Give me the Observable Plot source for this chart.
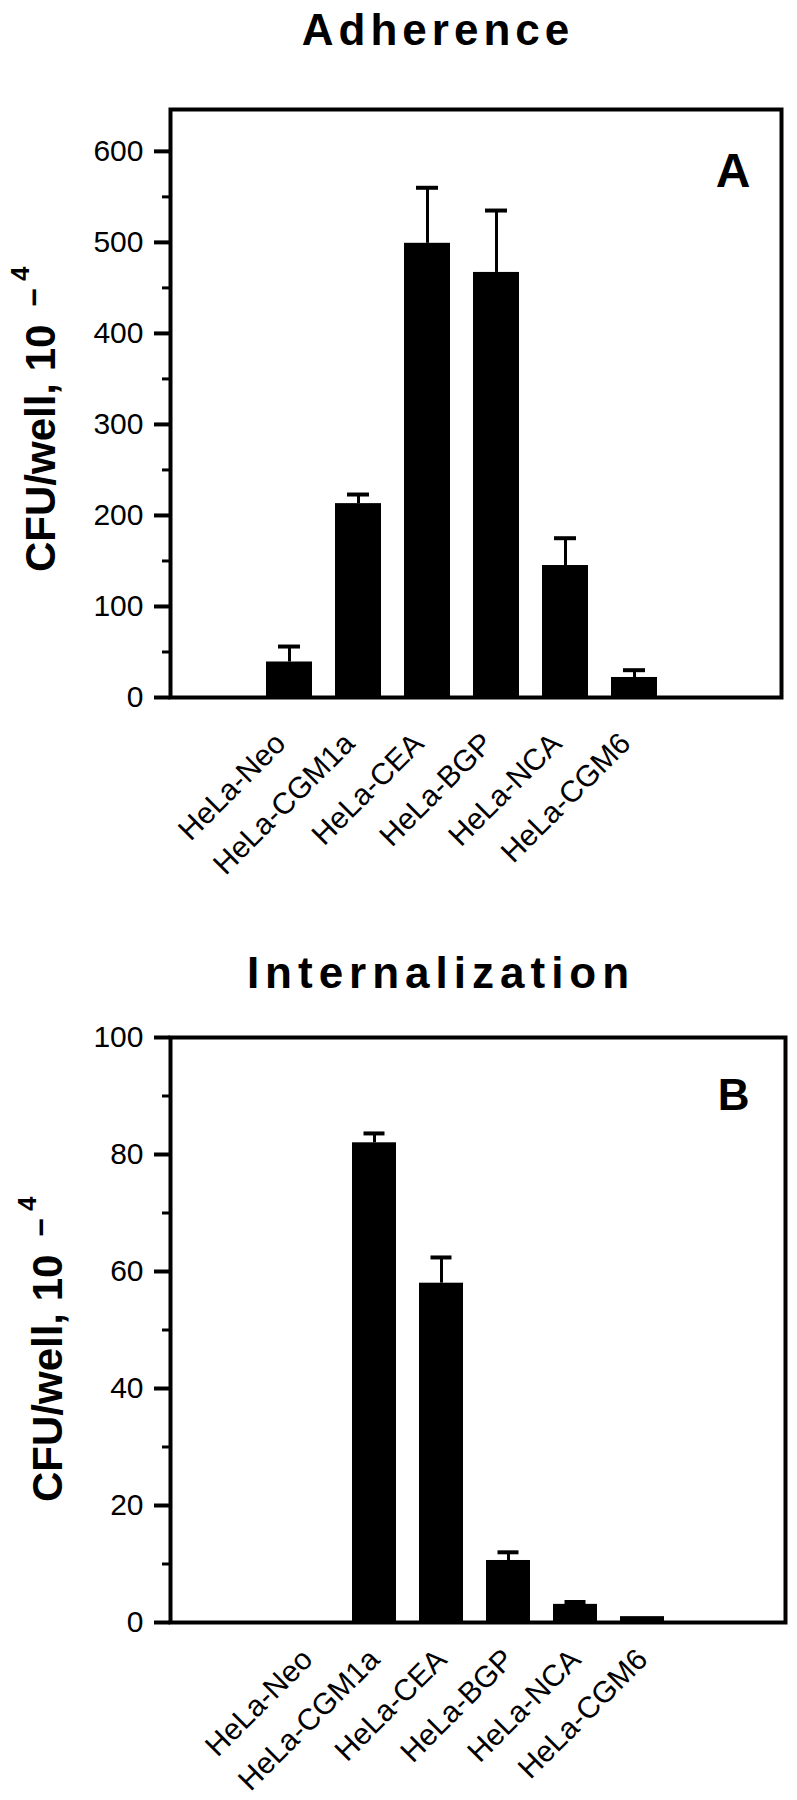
<!DOCTYPE html>
<html>
<head>
<meta charset="utf-8">
<script src="https://cdn.jsdelivr.net/npm/d3@7"></script>
<script src="https://cdn.jsdelivr.net/npm/@observablehq/plot@0.6"></script>
<style>
  html, body { margin: 0; padding: 0; background: white; overflow: hidden; }
  #page { position: relative; width: 797px; height: 1800px; background: white; overflow: hidden; }
  .panel { position: absolute; left: 0; }
  .title {
    position: absolute; z-index: 2; transform: translateX(-50%);
    font-family: "Liberation Sans", Arial, Helvetica, sans-serif;
    font-weight: bold; font-size: 44px; line-height: 44px; letter-spacing: 5px;
    white-space: nowrap; color: black;
  }
  #page svg g[aria-label="y-axis tick label"] { font-size: 30px; }
  #page svg g[aria-label="x-axis tick label"] { font-size: 30px; }
</style>
</head>
<body>
<div id="page">
  <div id="panelA" class="panel" style="top:0px"></div>
  <div id="panelB" class="panel" style="top:900px"></div>
  <div class="title" style="left:438px; top:8px">Adherence</div>
  <div class="title" style="left:441px; top:951px; letter-spacing:6px">Internalization</div>
</div>
<script>
// ---- data ----
const categories = ["HeLa-Neo", "HeLa-CGM1a", "HeLa-CEA", "HeLa-BGP", "HeLa-NCA", "HeLa-CGM6"];

// Panel A: Adherence (CFU/well, 10^-4)
const adherenceMean  = [39, 213, 499, 467, 145, 22];
const adherenceUpper = [56, 223, 560, 535, 175, 30];
const adherenceMajorTicks = [0, 100, 200, 300, 400, 500, 600];
const adherenceMinorTicks = [50, 150, 250, 350, 450, 550];

// Panel B: Internalization (CFU/well, 10^-4)
const internalMean  = [0, 82, 58, 10.6, 3.1, 1.0];
const internalUpper = [null, 83.6, 62.4, 12.0, 3.5, null];
const internalMajorTicks = [0, 20, 40, 60, 80, 100];
const internalMinorTicks = [10, 30, 50, 70, 90];

const FONT = '"Liberation Sans", Arial, Helvetica, sans-serif';

function makePanel(cfg) {
  const data = categories.map((c, i) => ({cat: c, value: cfg.values[i], hi: cfg.upper[i]}));
  const hasErr = d => d.hi != null;
  const svg = Plot.plot({
    width: 797,
    height: 900,
    marginLeft: 170,
    marginRight: cfg.marginRight,
    marginTop: cfg.marginTop,
    marginBottom: cfg.marginBottom,
    style: {fontFamily: FONT, fontSize: "30px", color: "black", background: "white", overflow: "visible"},
    x: {domain: categories, range: cfg.xRange, paddingInner: 0.34, paddingOuter: 0.17},
    y: {domain: [0, cfg.yMax]},
    marks: [
      Plot.barY(data, {x: "cat", y: "value", fill: "black"}),
      Plot.ruleX(data, {filter: hasErr, x: "cat", y1: "value", y2: "hi", stroke: "black", strokeWidth: 3}),
      Plot.tickY(data, {filter: hasErr, x: "cat", y: "hi", stroke: "black", strokeWidth: 4,
                        insetLeft: cfg.capInset, insetRight: cfg.capInset}),
      Plot.frame({stroke: "black", strokeWidth: 4}),
      Plot.axisY(cfg.major, {tickSize: 16, tickPadding: 11, fontSize: 30, strokeWidth: 4, label: null}),
      Plot.axisY(cfg.minor, {tickSize: 8, tickFormat: () => "", strokeWidth: 3, label: null}),
      Plot.axisX({tickSize: 0, tickRotate: -45, tickPadding: cfg.xPad, dx: cfg.xDx, fontSize: 30, label: null}),
      Plot.text([cfg.letter], {text: d => d, frameAnchor: "top-right", dx: cfg.letterDx, dy: cfg.letterDy,
                               fontSize: cfg.letterSize, fontWeight: "bold"})
    ]
  });
  // y-axis title with raised exponent
  const t = d3.select(svg).append("text")
    .attr("transform", `translate(${cfg.labelX},${cfg.labelY}) rotate(-90)`)
    .attr("text-anchor", "start")
    .attr("font-family", FONT)
    .attr("font-weight", "bold")
    .attr("font-size", 42)
    .attr("fill", "black");
  t.append("tspan").text("CFU/well, 10");
  t.append("tspan").attr("dx", 18).attr("dy", -10).attr("font-size", 32).text("\u2212");
  t.append("tspan").attr("dx", 7).attr("dy", -16).attr("font-size", 26).text("4");
  return svg;
}

document.getElementById("panelA").appendChild(makePanel({
  values: adherenceMean, upper: adherenceUpper, yMax: 646,
  major: adherenceMajorTicks, minor: adherenceMinorTicks,
  marginTop: 109, marginBottom: 203, marginRight: 16,
  xRange: [252, 670], capInset: 12, xPad: 41, xDx: -9,
  letter: "A", letterSize: 48, letterDx: -31, letterDy: 43,
  labelX: 55, labelY: 572
}));

document.getElementById("panelB").appendChild(makePanel({
  values: internalMean, upper: internalUpper, yMax: 100,
  major: internalMajorTicks, minor: internalMinorTicks,
  marginTop: 137, marginBottom: 178, marginRight: 12,
  xRange: [272, 677], capInset: 11.5, xPad: 32, xDx: 0,
  letter: "B", letterSize: 44, letterDx: -36, letterDy: 41,
  labelX: 62, labelY: 602
}));
</script>
</body>
</html>
